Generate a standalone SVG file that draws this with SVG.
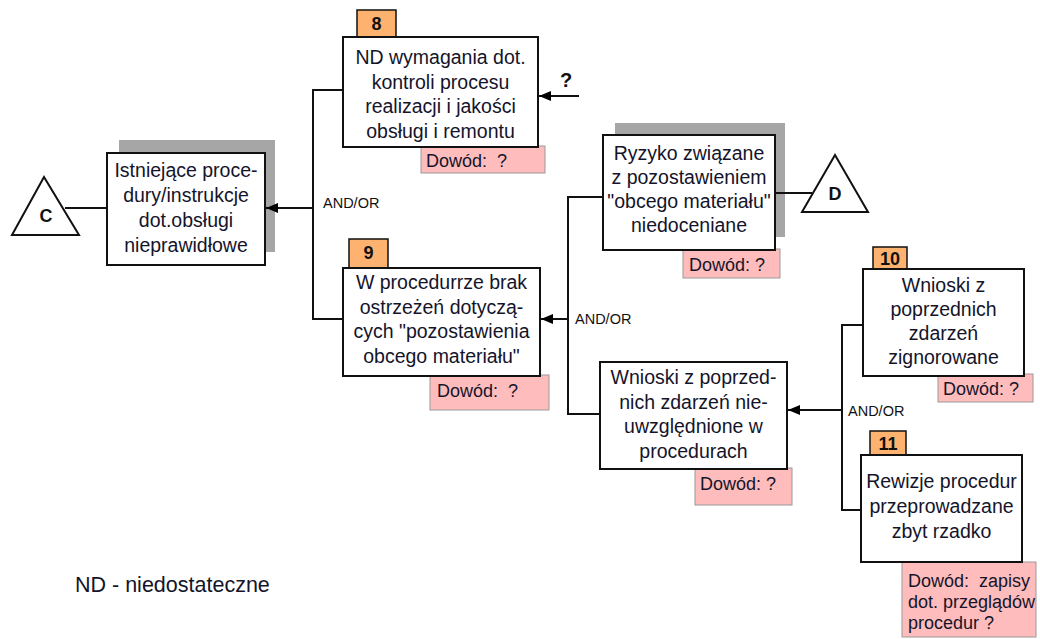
<svg xmlns="http://www.w3.org/2000/svg" width="1040" height="639" viewBox="0 0 1040 639">
<defs>
<marker id="ah" markerWidth="12" markerHeight="10" refX="12" refY="5" orient="auto" markerUnits="userSpaceOnUse">
<path d="M0,0 L12,5 L0,10 Z" fill="#000"/>
</marker>
<style>
.box{fill:#fff;stroke:#111;stroke-width:2}
.shadow{fill:#a6a6a6}
.pink{fill:#ffbcbc;stroke:#9a9a9a;stroke-width:1}
.tag{fill:#fdb36f;stroke:#111;stroke-width:1.5}
.tri{fill:#fff;stroke:#111;stroke-width:2}
.t{font-family:"Liberation Sans",Arial,sans-serif;font-size:19.5px;fill:#14142a;text-anchor:middle}
.p{font-family:"Liberation Sans",Arial,sans-serif;font-size:18px;fill:#14142a}
.n{font-family:"Liberation Sans",Arial,sans-serif;font-size:18px;font-weight:bold;fill:#111;text-anchor:middle}
.lbl{font-family:"Liberation Sans",Arial,sans-serif;font-size:14.5px;fill:#111}
.ln{fill:none;stroke:#111;stroke-width:2}
</style>
</defs>
<rect width="1040" height="639" fill="#fff"/>

<g id="triC">
<polygon class="tri" points="44,177 12,235 79,235"/>
<text class="n" x="46" y="222" font-size="19">C</text>
</g>

<g id="triD">
<polygon class="tri" points="835,155 802,212 868,212"/>
<text class="n" x="835" y="200" font-size="19">D</text>
</g>

<g id="nodeC">
<rect class="shadow" x="119" y="140" width="156" height="112"/>
<rect class="box" x="107" y="153" width="158" height="112"/>
<text class="t" x="186" y="177">Istniejące proce-</text>
<text class="t" x="186" y="202">dury/instrukcje</text>
<text class="t" x="186" y="227">dot.obsługi</text>
<text class="t" x="186" y="252">nieprawidłowe</text>
</g>

<g id="node8">
<rect class="pink" x="421" y="146" width="124" height="27"/>
<text class="p" x="426" y="167" xml:space="preserve">Dowód:  ?</text>
<rect class="tag" x="357" y="10" width="39" height="27"/>
<text class="n" x="376.5" y="30">8</text>
<rect class="box" x="343" y="37" width="195" height="110"/>
<text class="t" x="440.5" y="64">ND wymagania dot.</text>
<text class="t" x="440.5" y="88.5">kontroli procesu</text>
<text class="t" x="440.5" y="113">realizacji i jakości</text>
<text class="t" x="440.5" y="137.5">obsługi i remontu</text>
</g>

<g id="node9">
<rect class="pink" x="430" y="375" width="119" height="35"/>
<text class="p" x="437" y="397" xml:space="preserve">Dowód:  ?</text>
<rect class="tag" x="349" y="239" width="39" height="29"/>
<text class="n" x="368.5" y="259">9</text>
<rect class="box" x="343" y="268" width="197" height="108"/>
<text class="t" x="441.5" y="289">W procedurrze brak</text>
<text class="t" x="441.5" y="313.5">ostrzeżeń dotyczą-</text>
<text class="t" x="441.5" y="338">cych "pozostawienia</text>
<text class="t" x="441.5" y="362.5">obcego materiału"</text>
</g>

<g id="nodeRyzyko">
<rect class="shadow" x="615" y="123" width="170" height="114"/>
<rect class="pink" x="683" y="249" width="97" height="29"/>
<text class="p" x="689" y="271">Dowód: ?</text>
<rect class="box" x="603" y="135" width="172" height="115"/>
<text class="t" x="689" y="160">Ryzyko związane</text>
<text class="t" x="689" y="184">z pozostawieniem</text>
<text class="t" x="689" y="208">"obcego materiału"</text>
<text class="t" x="689" y="232">niedoceniane</text>
</g>

<g id="nodeWnioski">
<rect class="pink" x="695" y="468" width="97" height="37"/>
<text class="p" x="700" y="490">Dowód: ?</text>
<rect class="box" x="600" y="362" width="187" height="107"/>
<text class="t" x="693.5" y="384">Wnioski z poprzed-</text>
<text class="t" x="693.5" y="408.5">nich zdarzeń nie-</text>
<text class="t" x="693.5" y="433">uwzględnione w</text>
<text class="t" x="693.5" y="457.5">procedurach</text>
</g>

<g id="node10">
<rect class="pink" x="938" y="374" width="95" height="28"/>
<text class="p" x="943" y="395">Dowód: ?</text>
<rect class="tag" x="873" y="247" width="34" height="22"/>
<text class="n" x="890" y="265">10</text>
<rect class="box" x="863" y="269" width="161" height="107"/>
<text class="t" x="943.5" y="292">Wnioski z</text>
<text class="t" x="943.5" y="316">poprzednich</text>
<text class="t" x="943.5" y="340">zdarzeń</text>
<text class="t" x="943.5" y="364">zignorowane</text>
</g>

<g id="node11">
<rect class="pink" x="902" y="562" width="134" height="75"/>
<text class="p" x="908" y="587" xml:space="preserve">Dowód:  zapisy</text>
<text class="p" x="908" y="608">dot. przeglądów</text>
<text class="p" x="908" y="629">procedur ?</text>
<rect class="tag" x="870" y="431" width="36" height="24"/>
<text class="n" x="888" y="450">11</text>
<rect class="box" x="861" y="455" width="161" height="107"/>
<text class="t" x="941.5" y="488">Rewizje procedur</text>
<text class="t" x="941.5" y="513">przeprowadzane</text>
<text class="t" x="941.5" y="538">zbyt rzadko</text>
</g>

<g id="legend">
<text x="75" y="592" font-family="Liberation Sans, Arial, sans-serif" font-size="21.5" fill="#14142a">ND - niedostateczne</text>
</g>

<g id="connectors">
<path class="ln" d="M343,90 H313 V319 H343"/>
<line class="ln" x1="313" y1="208" x2="266" y2="208" marker-end="url(#ah)"/>
<line class="ln" x1="65" y1="208" x2="107" y2="208"/>
<line class="ln" x1="579" y1="96" x2="539" y2="96" marker-end="url(#ah)"/>
<path class="ln" d="M603,197 H568 V414 H600"/>
<line class="ln" x1="568" y1="319" x2="541" y2="319" marker-end="url(#ah)"/>
<line class="ln" x1="775" y1="193" x2="812" y2="193"/>
<path class="ln" d="M863,325 H842 V510 H861"/>
<line class="ln" x1="842" y1="410" x2="788" y2="410" marker-end="url(#ah)"/>
<text class="lbl" x="323" y="208">AND/OR</text>
<text class="lbl" x="575" y="324">AND/OR</text>
<text class="lbl" x="848" y="416">AND/OR</text>
<text x="560" y="87" font-family="Liberation Sans, Arial, sans-serif" font-size="20" font-weight="bold" fill="#111">?</text>
</g>
</svg>
